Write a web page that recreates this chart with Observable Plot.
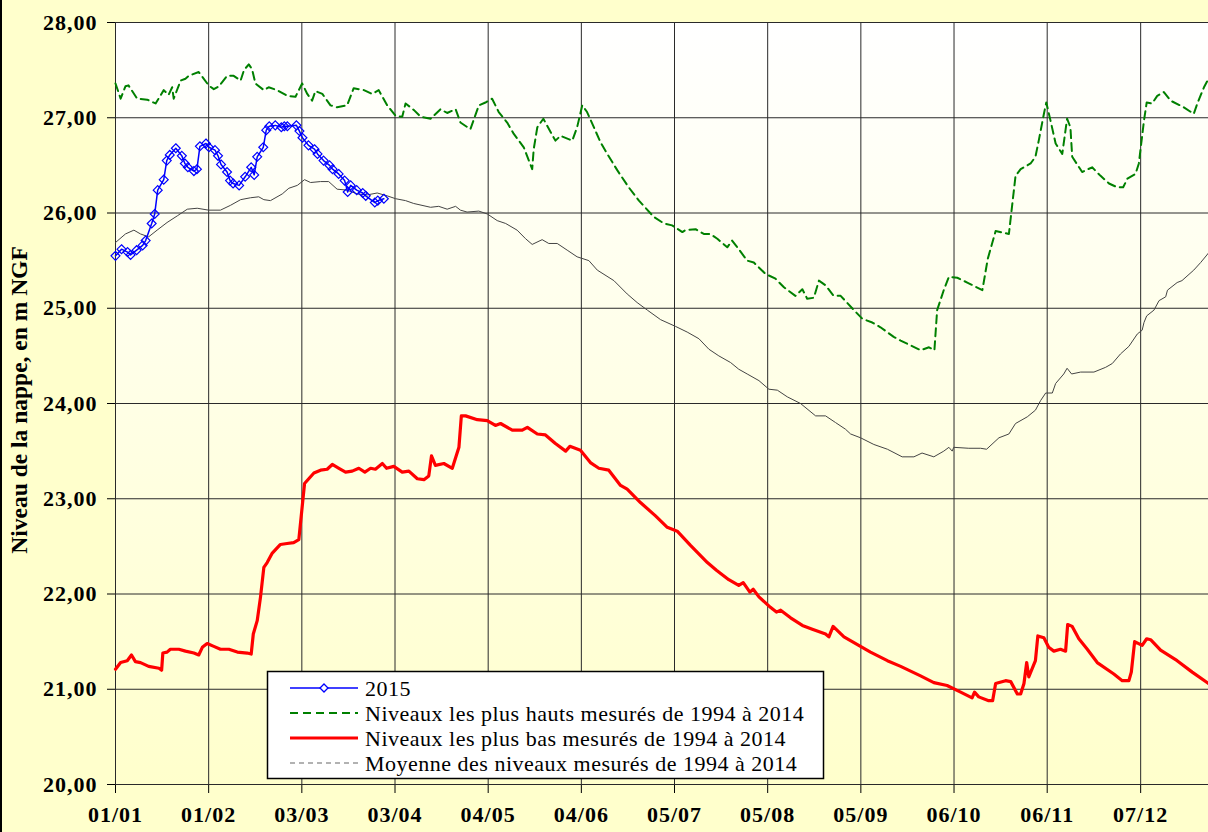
<!DOCTYPE html>
<html>
<head>
<meta charset="utf-8">
<script src="https://cdn.jsdelivr.net/npm/d3@7"></script>
<script src="https://cdn.jsdelivr.net/npm/@observablehq/plot@0.6"></script>
<style>
  html, body { margin: 0; padding: 0; background: #FFFFCC; }
  #wrap { position: relative; width: 1208px; height: 832px; overflow: hidden; }
  #border { position: absolute; left: 0; top: 0; width: 2px; height: 832px; background: #000; }
</style>
</head>
<body>
<div id="wrap"><div id="chart"></div><div id="border"></div></div>
<script>
// ---- Axis ticks ----
const tickDays = [0, 30.9, 61.8, 92.7, 123.6, 154.5, 185.4, 216.3, 247.2, 278.1, 309, 340];
const tickLabels = ["01/01", "01/02", "03/03", "03/04", "04/05", "04/06", "05/07", "05/08", "05/09", "06/10", "06/11", "07/12"];
const yTicks = [20, 21, 22, 23, 24, 25, 26, 27, 28];
const yTitle = "Niveau de la nappe, en m NGF";

// ---- Series names ----
const seriesNames = [
  "2015",
  "Niveaux les plus hauts mesurés de 1994 à 2014",
  "Niveaux les plus bas mesurés de 1994 à 2014",
  "Moyenne des niveaux mesurés de 1994 à 2014"
];

// ---- 2015 ----
const day2015 = [0,2,4,5,7,9,10,12,13,14,16,17,18,20,22,23,24,26,27,28,30,31,33,34,35,37,38,39,41,43,45,46,47,49,50,51,53,55,56,57,60,61,62,64,66,67,69,71,72,74,76,77,78,80,82,83,86,87,89];
const level2015 = [25.55,25.62,25.59,25.56,25.61,25.66,25.71,25.89,25.99,26.24,
  26.35,26.55,26.61,26.68,26.60,26.52,26.48,26.44,26.46,26.70,
  26.73,26.69,26.66,26.60,26.51,26.43,26.34,26.31,26.29,26.38,
  26.48,26.40,26.59,26.69,26.87,26.91,26.92,26.90,26.91,26.91,
  26.92,26.86,26.79,26.71,26.67,26.62,26.55,26.50,26.46,26.41,
  26.34,26.22,26.29,26.24,26.21,26.18,26.11,26.13,26.15];

// ---- Highest levels 1994-2014 ----
const dayMax = [0,1.7,3.3,4.3,7.2,10.5,13.3,16,17.6,18.8,19.3,21.6,23.2,24.3,27.6,28.8,30.9,32.6,34.3,37,
  39.2,41.5,42.6,44.2,45.3,46.4,49.2,50.8,53.6,57,59.7,61.9,63.6,65.2,66.3,68.6,71.3,73.5,76.8,79,
  82.4,85.1,87.3,90.1,92.9,95.1,96.2,99,101.2,104.5,107.8,110,112.8,114.4,117.7,120.5,122.7,124.9,127.1,129.9,
  132.1,135.4,138.2,138.7,139.9,141.9,144.3,145.9,147.6,151.5,153.1,154.8,156.4,160.9,163.1,166.4,170.2,173.6,178.5,181.9,
  184.6,188,189,192.4,195.1,197.3,199.6,202.9,204.5,206.7,209.5,211.7,215.6,218.9,221.7,225.5,227.8,229.4,231.6,233.3,
  235.5,238.2,240.5,244.9,247.7,251,253.7,258.1,260.4,263.7,267,269.8,271.6,272.5,274.7,276.4,279.2,282.5,287.5,289.3,
  291.9,296.3,298.5,300.2,303.5,305.1,306.2,307.9,308.7,310.1,311.8,314,315.6,316.7,317.3,320.6,323.9,326.7,329.5,332.2,
  334.2,335.6,338.3,339.4,341.1,342,343.8,345.5,347.7,349.9,354.3,357.6,358.8,361,362.5];
const levelMax = [27.36,27.20,27.33,27.34,27.20,27.19,27.15,27.29,27.24,27.32,27.20,27.39,27.41,27.44,27.48,27.43,27.34,27.30,27.33,27.44,
  27.44,27.39,27.50,27.56,27.51,27.36,27.29,27.32,27.29,27.23,27.22,27.36,27.25,27.18,27.28,27.25,27.13,27.11,27.13,27.31,
  27.29,27.25,27.29,27.13,27.02,27.01,27.15,27.08,27.01,26.99,27.09,27.05,27.09,26.95,26.88,27.13,27.16,27.20,27.06,26.95,
  26.83,26.69,26.46,26.67,26.90,26.99,26.85,26.76,26.81,26.76,26.90,27.13,27.06,26.74,26.62,26.45,26.27,26.13,25.96,25.89,
  25.87,25.80,25.82,25.83,25.78,25.78,25.73,25.64,25.71,25.62,25.50,25.48,25.36,25.31,25.22,25.13,25.20,25.10,25.11,25.29,
  25.24,25.13,25.13,24.98,24.89,24.85,24.80,24.70,24.66,24.61,24.56,24.59,24.56,24.98,25.19,25.33,25.32,25.27,25.19,25.52,
  25.81,25.78,26.39,26.46,26.52,26.59,26.76,27.04,27.16,26.97,26.73,26.62,26.99,26.90,26.59,26.43,26.48,26.39,26.31,26.27,
  26.27,26.36,26.41,26.52,26.97,27.16,27.15,27.23,27.27,27.18,27.11,27.04,27.15,27.32,27.41];

// ---- Lowest levels 1994-2014 ----
const dayMin = [0,1.7,3.9,5.3,6.6,8.3,11,14.4,15.3,15.7,17.1,18.2,21,23.2,26,27.6,28.8,30.4,32.6,34.8,
  37.6,40.4,43.7,45,45.7,47,48.1,49.2,50.3,52,54.7,56.9,59.1,60.8,62.7,64.1,65.8,68,70.2,71.9,
  74.1,76.3,78.5,80.7,82.7,84.6,86.2,88.5,89.9,92.3,95.1,97.3,100.1,102.3,103.9,104.8,106.1,108.9,111.7,113.9,
  114.7,116.1,120,123.3,126,127.7,131.6,134.9,136.6,139.9,142.6,145.9,149.3,150.7,154.2,157.5,160.3,163.6,167.5,169.7,
  174.1,179.1,183,186.3,190.7,196.3,199.3,203.4,206.7,208.2,210.4,211.5,213.4,217.2,219.2,220.6,223.9,227.8,231.1,235.5,
  236.6,238,241.6,246.5,250.4,256,260.4,267,271.4,275.8,280.3,284.1,284.9,286.3,289.6,290.9,291.9,295.2,296.9,299.1,
  300.2,301.3,302.2,302.9,305.1,305.9,307.9,309.5,311.2,313.4,315.1,315.8,317.3,319.5,322.3,325.6,331.1,333.9,336.1,336.9,
  338,340.5,342,343.3,346.6,352.1,357.1,362.5];
const levelMin = [21.21,21.28,21.30,21.36,21.29,21.28,21.24,21.22,21.20,21.38,21.39,21.42,21.42,21.40,21.38,21.36,21.44,21.48,21.45,21.42,
  21.42,21.39,21.38,21.37,21.58,21.72,21.97,22.28,22.33,22.43,22.52,22.53,22.54,22.57,23.16,23.21,23.27,23.30,23.31,23.36,
  23.32,23.28,23.29,23.32,23.28,23.32,23.31,23.37,23.32,23.34,23.28,23.29,23.21,23.20,23.24,23.45,23.35,23.37,23.32,23.54,
  23.87,23.87,23.83,23.82,23.77,23.79,23.72,23.72,23.75,23.68,23.67,23.58,23.50,23.55,23.51,23.38,23.32,23.30,23.14,23.10,
  22.96,22.82,22.70,22.66,22.51,22.33,22.25,22.15,22.09,22.12,22.02,22.05,21.97,21.86,21.81,21.83,21.75,21.67,21.63,21.58,
  21.55,21.66,21.55,21.46,21.39,21.30,21.24,21.14,21.07,21.04,20.97,20.91,20.97,20.92,20.88,20.88,21.06,21.09,21.08,20.95,
  20.95,21.06,21.28,21.13,21.30,21.56,21.54,21.44,21.40,21.42,21.40,21.68,21.66,21.53,21.42,21.28,21.16,21.09,21.09,21.18,
  21.50,21.46,21.53,21.52,21.41,21.30,21.18,21.06];

// ---- Mean levels 1994-2014 ----
const dayMean = [0,3.3,6.1,8.3,11,13.8,17.1,20.5,23.8,27.1,30.9,34.8,38.1,41.5,44.8,47.5,49.2,51.4,55.3,57.5,
  60.3,62.7,64.7,68,70.7,73.5,76.8,80.2,83.5,86.8,90.1,92.9,96.2,98.9,104.5,107.2,110,112.8,114.4,116.6,
  120.5,123.3,126.6,129.4,133.2,136,138.2,141.5,143.7,146.5,149.8,153.1,157,159.8,165.3,169.7,173,176.4,180.8,185.7,
  189.6,193.5,196.8,200.1,204,206.7,209.5,213.4,216.7,219.5,222.8,227.2,232.2,235.5,238.8,242.1,243.8,247.1,251.5,256,
  260.9,264.8,267.5,271.4,274.7,276.4,277.5,278,283,286.9,288.9,293,296.3,298.5,302.4,305.1,306.8,308.5,310.7,311.8,
  314.5,315.6,317.1,320.1,324.5,328.4,330.6,333.3,336.1,338.9,340.5,341.1,342,344.4,346.1,348.3,348.9,352.1,353.7,357.6,
  359.9,362.5];
const levelMean = [25.69,25.78,25.82,25.78,25.75,25.82,25.90,25.97,26.04,26.05,26.03,26.03,26.08,26.14,26.16,26.17,26.14,26.13,26.20,26.26,
  26.29,26.35,26.32,26.33,26.33,26.25,26.24,26.20,26.19,26.21,26.18,26.15,26.13,26.10,26.06,26.07,26.04,26.07,26.03,26.01,
  26.02,25.99,25.92,25.89,25.82,25.73,25.67,25.72,25.68,25.68,25.61,25.54,25.50,25.40,25.29,25.15,25.06,24.98,24.88,24.81,
  24.75,24.68,24.57,24.50,24.43,24.36,24.31,24.24,24.15,24.14,24.07,24.00,23.87,23.87,23.80,23.73,23.68,23.64,23.57,23.52,
  23.44,23.44,23.48,23.44,23.50,23.54,23.50,23.54,23.53,23.53,23.52,23.64,23.68,23.79,23.86,23.93,24.03,24.11,24.11,24.21,
  24.31,24.37,24.31,24.33,24.33,24.38,24.42,24.52,24.60,24.73,24.77,24.85,24.92,24.98,25.08,25.12,25.19,25.27,25.29,25.40,
  25.48,25.58];

// ---- Build tables ----
const toRows = (days, levels) => days.map((d, i) => ({day: d, level: levels[i]}));
const rows2015 = toRows(day2015, level2015);
const rowsMax = toRows(dayMax, levelMax);
const rowsMin = toRows(dayMin, levelMin);
const rowsMean = toRows(dayMean, levelMean);
const labelOf = new Map(tickDays.map((d, i) => [d, tickLabels[i]]));

const colors = {y2015: "#0000ff", max: "#008000", min: "#ff0000", mean: "#444444"};
const serif = "'Liberation Serif', 'Times New Roman', serif";

const chart = Plot.plot({
  width: 1208,
  height: 832,
  marginLeft: 115,
  marginRight: 0,
  marginTop: 22,
  marginBottom: 48,
  style: {
    background: "transparent",
    color: "#000",
    fontFamily: serif,
    fontSize: "22px",
    fontWeight: "bold",
    overflow: "visible"
  },
  x: {
    domain: [0, 362.5],
    ticks: tickDays,
    tickFormat: d => labelOf.get(d),
    tickSize: 9,
    tickPadding: 13,
    line: true,
    label: null
  },
  y: {
    domain: [20, 28],
    ticks: yTicks,
    tickFormat: d => d.toFixed(2).replace(".", ","),
    tickSize: 8,
    tickPadding: 10,
    line: true,
    label: null
  },
  marks: [
    Plot.frame({fill: "url(#plotbg)", stroke: "none"}),
    Plot.ruleY(yTicks, {stroke: "#2a2a2a", strokeWidth: 1}),
    Plot.ruleX(tickDays, {stroke: "#2a2a2a", strokeWidth: 1}),
    Plot.line(rowsMean, {x: "day", y: "level", stroke: colors.mean, strokeWidth: 1}),
    Plot.line(rowsMin, {x: "day", y: "level", stroke: colors.min, strokeWidth: 3.2}),
    Plot.line(rowsMax, {x: "day", y: "level", stroke: colors.max, strokeWidth: 2, strokeDasharray: "8,5"}),
    Plot.line(rows2015, {x: "day", y: "level", stroke: colors.y2015, strokeWidth: 1.5}),
    Plot.dot(rows2015, {x: "day", y: "level", symbol: "diamond2", r: 4, stroke: colors.y2015, strokeWidth: 1.2, fill: "none"})
  ]
});

document.getElementById("chart").appendChild(chart);

const svg = d3.select(chart.tagName.toLowerCase() === "svg" ? chart : chart.querySelector("svg"));
svg.insert("defs", ":first-child").html(
  '<linearGradient id="plotbg" x1="0" y1="0" x2="0" y2="1">' +
  '<stop offset="0" stop-color="#ffffff"/><stop offset="1" stop-color="#ffffcc"/></linearGradient>'
);
svg.selectAll("[aria-label='y-axis tick label'] text, [aria-label='x-axis tick label'] text").attr("letter-spacing", "1px");

// ---- Y axis title ----
svg.append("text")
  .attr("transform", "translate(19,400) rotate(-90)")
  .attr("text-anchor", "middle")
  .attr("dy", "0.35em")
  .attr("font-family", serif)
  .attr("font-size", "23.5px")
  .attr("font-weight", "bold")
  .attr("fill", "#000")
  .text(yTitle);

// ---- Legend ----
const lg = svg.append("g").attr("font-family", serif)
  .attr("font-size", "22px").attr("font-weight", "normal").attr("text-anchor", "start");
lg.append("rect").attr("x", 267.5).attr("y", 671.5).attr("width", 556).attr("height", 107)
  .attr("fill", "#fff").attr("stroke", "#000").attr("stroke-width", 1.5);
const rowY = [688, 713, 738, 763];
const legendStyles = [
  {stroke: colors.y2015, width: 1.5, dash: null, marker: true},
  {stroke: colors.max, width: 2, dash: "8,5"},
  {stroke: colors.min, width: 3.2, dash: null},
  {stroke: "#999", width: 1.5, dash: "5,4"}
];
seriesNames.forEach((name, i) => {
  const s = legendStyles[i];
  const y = rowY[i];
  lg.append("line").attr("x1", 290).attr("x2", 358).attr("y1", y).attr("y2", y)
    .attr("stroke", s.stroke).attr("stroke-width", s.width).attr("stroke-dasharray", s.dash);
  if (s.marker) {
    lg.append("path").attr("d", `M324,${y-4}L328,${y}L324,${y+4}L320,${y}Z`)
      .attr("fill", "#fff").attr("stroke", s.stroke).attr("stroke-width", 1.3);
  }
  lg.append("text").attr("x", 365).attr("y", y).attr("dy", "0.35em").attr("text-anchor", "start")
    .attr("letter-spacing", "0.5px").attr("fill", "#000").text(name);
});
</script>
</body>
</html>
